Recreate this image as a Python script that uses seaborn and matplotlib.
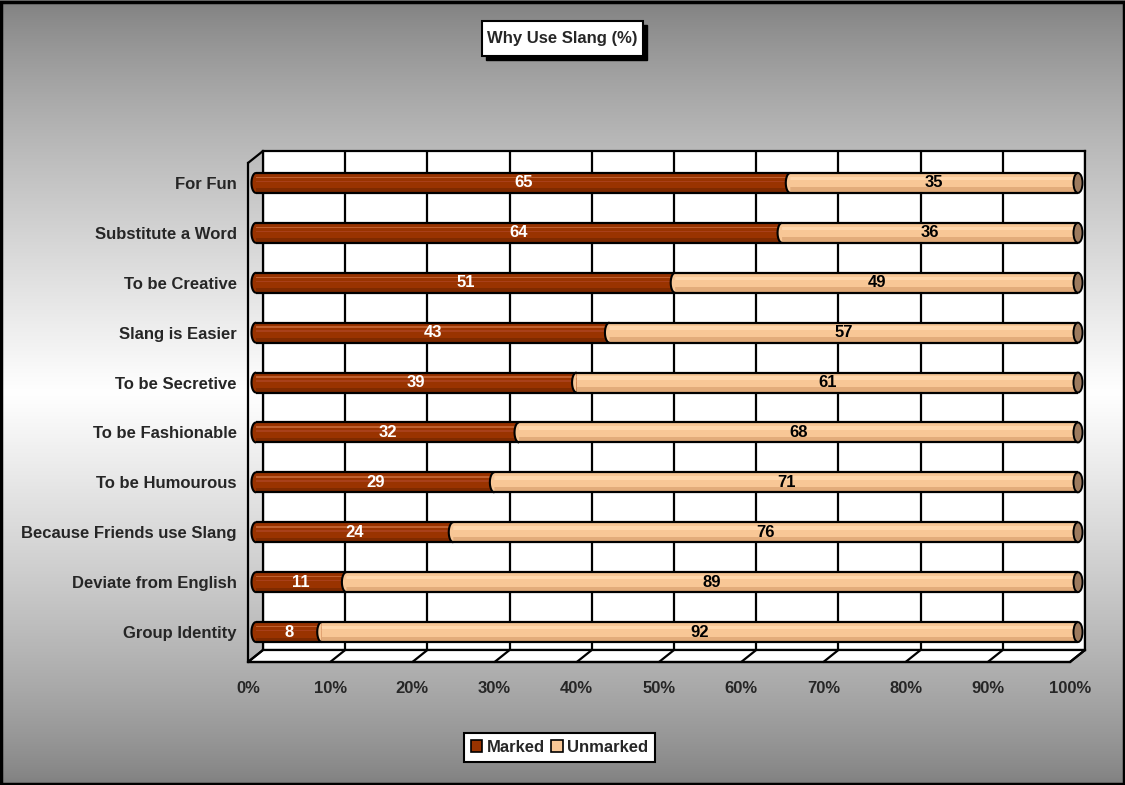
import numpy as np
import pandas as pd
import matplotlib
matplotlib.use("Agg")
import matplotlib.pyplot as plt
import seaborn as sns
from matplotlib.patches import Ellipse, Polygon, Rectangle, Patch
from matplotlib.lines import Line2D

# ---------------- data ----------------
categories = ["For Fun", "Substitute a Word", "To be Creative", "Slang is Easier",
              "To be Secretive", "To be Fashionable", "To be Humourous",
              "Because Friends use Slang", "Deviate from English", "Group Identity"]
marked = [65, 64, 51, 43, 39, 32, 29, 24, 11, 8]
unmarked = [35, 36, 49, 57, 61, 68, 71, 76, 89, 92]
x_ticks = [0, 10, 20, 30, 40, 50, 60, 70, 80, 90, 100]
x_tick_labels = ["0%", "10%", "20%", "30%", "40%", "50%", "60%", "70%", "80%", "90%", "100%"]
title = "Why Use Slang (%)"
series_names = ["Marked", "Unmarked"]

df = pd.DataFrame({"cat": categories, "Marked": marked, "Unmarked": unmarked})
df["Total"] = df["Marked"] + df["Unmarked"]

# ---------------- style ----------------
sns.set_style("white")
plt.rcParams["font.family"] = ["Liberation Sans", "DejaVu Sans"]
plt.rcParams["font.weight"] = "bold"

MARKED_C = "#993300"
TAN_C = "#F8C796"
CAP_C = "#9E7B5E"
FS = 12

W, H = 1125, 785
fig = plt.figure(figsize=(W / 100, H / 100), dpi=100)


def rect(l, t, r, b):
    return [l / W, 1 - b / H, (r - l) / W, (b - t) / H]


def P(x, y):
    return (x / W, 1 - y / H)


# background gradient
bg = fig.add_axes([0, 0, 1, 1], zorder=-10)
t = np.linspace(0, 1, 400)
g = 0.5 + 0.5 * (1 - np.abs(2 * t - 1)) ** 0.8
grad = np.dstack([g, g, g]).reshape(400, 1, 3)
bg.imshow(grad, aspect="auto", extent=[0, 1, 0, 1], origin="upper")
bg.set_xlim(0, 1)
bg.set_ylim(0, 1)
bg.axis("off")
fig.add_artist(Rectangle((0.001, 0.001), 0.998, 0.997, transform=fig.transFigure,
                         fill=False, edgecolor="black", linewidth=2.5, zorder=20))

# back wall
FL, FT, FR, FB = 248, 163, 1070, 662   # front frame
DX, DY = 15, -12                        # depth offset
ax_back = fig.add_axes(rect(FL + DX, FT + DY, FR + DX, FB + DY), zorder=0)
ax_back.set_facecolor("white")
ax_back.set_xlim(0, 100)
ax_back.set_ylim(0, 1)
ax_back.set_xticks(x_ticks)
ax_back.set_yticks([])
ax_back.tick_params(length=0, labelbottom=False)
ax_back.grid(axis="x", color="black", linewidth=1.6)
for s in ax_back.spines.values():
    s.set_visible(True)
    s.set_color("black")
    s.set_linewidth(1.6)

# floor and depth lines
floor = Polygon([P(FL, FB), P(FR, FB), P(FR + DX, FB + DY), P(FL + DX, FB + DY)],
                closed=True, transform=fig.transFigure, facecolor="white",
                edgecolor="black", linewidth=1.6, zorder=1)
fig.add_artist(floor)
for v in x_ticks:
    xf = FL + (FR - FL) * v / 100
    fig.add_artist(Line2D([xf / W, (xf + DX) / W], [1 - FB / H, 1 - (FB + DY) / H],
                          transform=fig.transFigure, color="black", linewidth=1.6, zorder=1.5))
fig.add_artist(Line2D([FL / W, (FL + DX) / W], [1 - FT / H, 1 - (FT + DY) / H],
                      transform=fig.transFigure, color="black", linewidth=1.6, zorder=1.5))

# front axes (ticks + x labels)
ax_front = fig.add_axes(rect(FL, FT, FR, FB), zorder=2)
ax_front.patch.set_alpha(0)
ax_front.set_xlim(0, 100)
ax_front.set_ylim(0, len(categories))
ax_front.set_xticks(x_ticks)
ax_front.set_xticklabels(x_tick_labels, fontsize=FS, fontweight="bold")
ax_front.set_yticks(np.arange(len(categories) + 1))
ax_front.set_yticklabels([])
ax_front.tick_params(axis="x", direction="out", length=7, width=1.6, color="black", pad=7)
ax_front.tick_params(axis="y", direction="out", length=6, width=1.6, color="black")
ax_front.spines["top"].set_visible(False)
ax_front.spines["right"].set_visible(False)
for s in ["left", "bottom"]:
    ax_front.spines[s].set_color("black")
    ax_front.spines[s].set_linewidth(1.6)

# bar axes
BL, BR, BT, BB = 256, 1078, 158, 657
ax = fig.add_axes(rect(BL, BT, BR, BB), zorder=3)
ax.patch.set_alpha(0)
n = len(categories)
ypos = np.arange(n)
bw = 0.4
cap_w = 1.1

sns.barplot(data=df, x="Total", y="cat", orient="h", color=TAN_C, saturation=1,
            width=bw, edgecolor="none", linewidth=0, ax=ax, zorder=2)
ax.barh(ypos - 0.09, df["Total"], height=0.07, color="#FFD7AC", linewidth=0, zorder=2.1)
ax.barh(ypos + 0.14, df["Total"], height=0.1, color="#E2AC7B", linewidth=0, zorder=2.1)
sns.barplot(data=df, x="Marked", y="cat", orient="h", color=MARKED_C, saturation=1,
            width=bw, edgecolor="none", linewidth=0, ax=ax, zorder=4)
ax.barh(ypos - 0.11, df["Marked"], height=0.03, color="#C0602E", linewidth=0, zorder=4.1)
ax.barh(ypos - 0.03, df["Marked"], height=0.03, color="#A8401A", linewidth=0, zorder=4.1)
ax.barh(ypos + 0.15, df["Marked"], height=0.08, color="#7E2A00", linewidth=0, zorder=4.1)

# rounded left ends of each segment (half ellipses)
th = np.linspace(np.pi / 2, 3 * np.pi / 2, 40)
for i, m in enumerate(marked):
    for x0, col in ((0, MARKED_C), (m, TAN_C)):
        xs = x0 + (cap_w / 2) * np.cos(th)
        ys = i + (bw / 2) * np.sin(th)
        ax.fill(xs, ys, color=col, linewidth=0, zorder=5, clip_on=False)
        ax.plot(xs, ys, color="black", linewidth=1.5, zorder=5.5, clip_on=False,
                solid_capstyle="butt")

ax.hlines(ypos - bw / 2, 0, df["Total"], color="black", linewidth=1.6, zorder=6, clip_on=False)
ax.hlines(ypos + bw / 2, 0, df["Total"], color="black", linewidth=1.6, zorder=6, clip_on=False)
for i, tot in enumerate(df["Total"]):
    ax.add_patch(Ellipse((tot, i), cap_w, bw, facecolor=CAP_C, edgecolor="black",
                         linewidth=1.4, zorder=7, clip_on=False))

# value labels
for i, (m, u) in enumerate(zip(marked, unmarked)):
    ax.text(m / 2, i, str(m), ha="center", va="center", color="white",
            fontsize=FS, fontweight="bold", zorder=8)
    ax.text(m + u / 2, i, str(u), ha="center", va="center", color="black",
            fontsize=FS, fontweight="bold", zorder=8)

ax.set_xlim(0, 100)
ax.set_ylim(n - 0.5, -0.5)
ax.set_xlabel("")
ax.set_ylabel("")
ax.set_xticks([])
ax.tick_params(axis="y", length=0, pad=14)
ax.set_yticklabels(categories, fontsize=FS, fontweight="bold")
for s in ax.spines.values():
    s.set_visible(False)

# title with shadow box
fig.add_artist(Rectangle(P(486, 60), 161 / W, 35 / H, transform=fig.transFigure,
                         facecolor="black", edgecolor="black", zorder=8))
fig.add_artist(Rectangle(P(482, 56), 161 / W, 35 / H, transform=fig.transFigure,
                         facecolor="white", edgecolor="black", linewidth=1.5, zorder=9))
fig.text(562.5 / W, 1 - 38.5 / H, title, ha="center", va="center", fontsize=FS,
         fontweight="bold", zorder=10)

# legend
handles = [Patch(facecolor=MARKED_C, edgecolor="black", linewidth=1.2),
           Patch(facecolor=TAN_C, edgecolor="black", linewidth=1.2)]
leg = fig.legend(handles, series_names, loc="center", bbox_to_anchor=(559.5 / W, 1 - 747.5 / H),
                 ncol=2, frameon=True, fancybox=False, edgecolor="black",
                 handlelength=0.7, handleheight=0.7, handletextpad=0.25, columnspacing=0.4,
                 borderpad=0.4, prop={"size": FS, "weight": "bold"})
leg.get_frame().set_linewidth(1.5)
leg.get_frame().set_facecolor("white")
leg.get_frame().set_alpha(1)

fig.savefig("out.png", dpi=100)
